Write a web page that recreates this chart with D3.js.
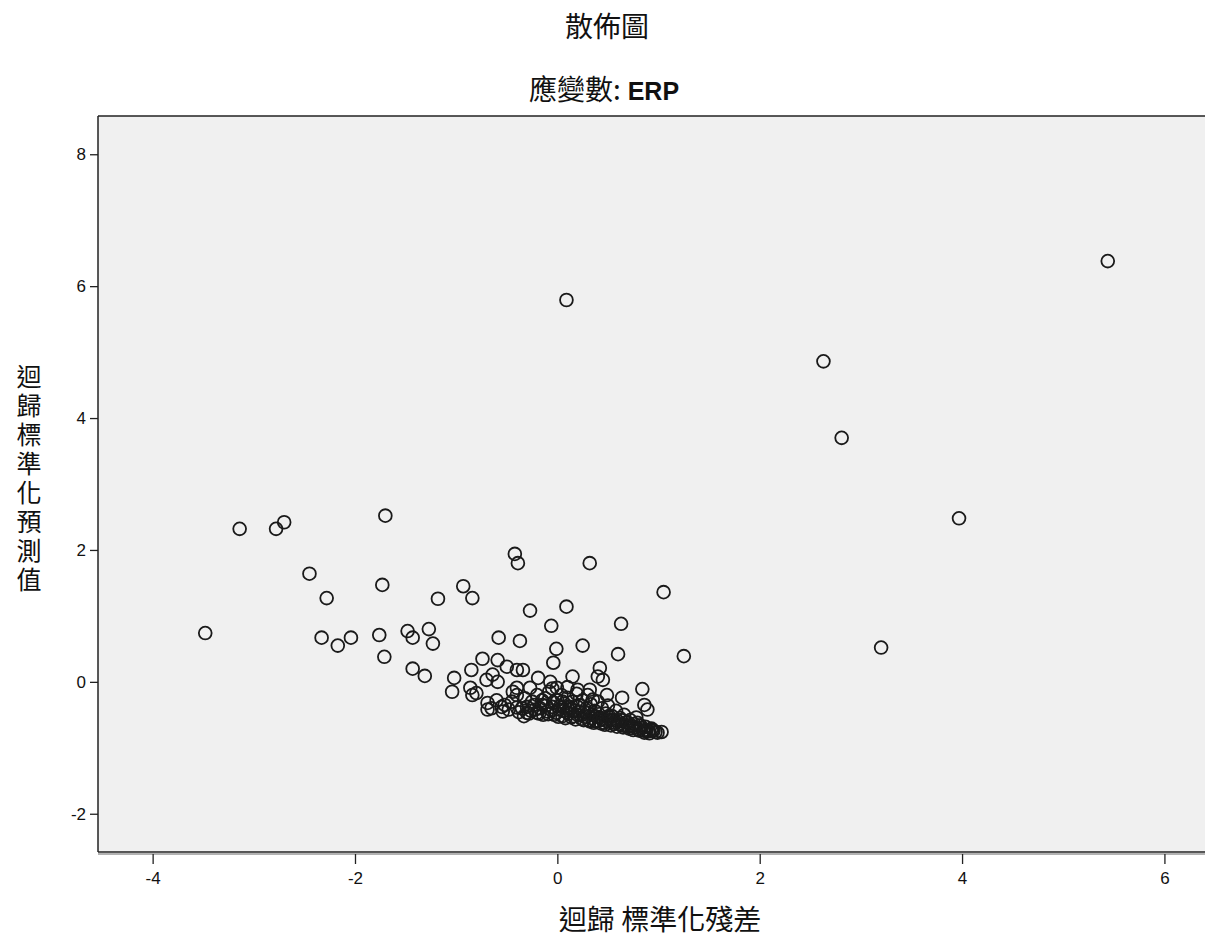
<!DOCTYPE html>
<html>
<head>
<meta charset="utf-8">
<script src="https://cdn.jsdelivr.net/npm/d3@7"></script>
<style>
  body { margin: 0; background: #ffffff; }
  svg { display: block; }
  .cjk { font-family: "Noto Sans CJK TC", "Noto Sans CJK SC", sans-serif; }
  .num { font-family: "Liberation Sans", Arial, sans-serif; }
</style>
</head>
<body>
<div id="chart"></div>
<script>
// chart texts
var chartTitle = "散佈圖";
var subTitleCjk = "應變數:";
var subTitleVar = " ERP";
var xLabel = "迴歸 標準化殘差";
var yLabel = "迴歸標準化預測值";

// tick values
var xTicks = [-4, -2, 0, 2, 4, 6];
var yTicks = [-2, 0, 2, 4, 6, 8];

// standardized residual (x) and standardized predicted value (y)
var residuals = [
    5.44, 0.09, 2.63, 2.81, 3.97, 3.20, -3.48, -3.14, -2.78, -2.70,
    -1.70, -2.45, -2.28, -2.33, -2.17, -2.04, -1.73, -1.76, -1.71, -1.48,
    -1.43, -1.27, -1.23, -1.43, -1.31, -1.18, -0.93, -0.84, -0.42, -0.39,
    0.32, 1.05, 0.09, -0.27, -0.06, 0.63, -0.58, -0.37, -0.01, 0.25,
    1.25, 0.60,
    -1.02, -1.04, -0.85, -0.74, -0.59, -0.50, -0.70, -0.59, -0.86, -0.84,
    -0.80, -0.69, -0.69, -0.55, -0.54, -0.64, -0.40, -0.44, -0.04, -0.34,
    0.15, -0.19, -0.07, -0.27, -0.005, -0.40, -0.40, -0.30, 0.42, 0.40,
    0.45, 0.84, 0.32, 0.49, 0.64, 0.86, 0.89, 0.35, 0.88, 0.94, 1.03,
    -0.25, -0.22, -0.20, -0.18, -0.15, -0.12, -0.10, -0.08, -0.05, -0.03,
    0.00, 0.02, 0.04, 0.05, 0.07, 0.09, 0.10, 0.12, 0.14, 0.15,
    0.17, 0.19, 0.20, 0.22, 0.24, 0.25, 0.27, 0.29, 0.31, 0.33,
    0.35, 0.37, 0.38, 0.40, 0.42, 0.44, 0.46, 0.48, 0.50, 0.52,
    0.54, 0.56, 0.58, 0.60, 0.62, 0.64, 0.66, 0.68, 0.70, 0.72,
    0.74, 0.76, 0.78, 0.80, 0.82, 0.85, 0.87, 0.90, 0.93, 0.97,
    -0.35, -0.32, -0.28, -0.45, -0.40, -0.05, 0.10, 0.30, 0.20,
    -0.30, -0.26, -0.23, -0.20, -0.17, -0.14, -0.11, -0.09, -0.06, -0.04,
    -0.01, 0.01, 0.03, 0.06, 0.08, 0.11, 0.13, 0.16, 0.18, 0.21,
    0.23, 0.26, 0.28, 0.30, 0.32, 0.34, 0.36, 0.39, 0.41, 0.43,
    0.45, 0.47, 0.49, 0.51, 0.53, 0.55, 0.57, 0.59, 0.61, 0.63,
    0.65, 0.67, 0.69, 0.71, 0.73, 0.75, 0.77, 0.79, 0.81, 0.83,
    0.86, 0.88, 0.91, 0.95, 0.99, -0.48, -0.52, -0.60, -0.65, -0.38,
    -0.33, -0.15, 0.05, 0.20
];
var predicted = [
    6.38, 5.79, 4.86, 3.70, 2.48, 0.52, 0.74, 2.32, 2.32, 2.42,
    2.52, 1.64, 1.27, 0.67, 0.55, 0.67, 1.47, 0.71, 0.38, 0.77,
    0.67, 0.80, 0.58, 0.20, 0.09, 1.26, 1.45, 1.27, 1.94, 1.80,
    1.80, 1.36, 1.14, 1.08, 0.85, 0.88, 0.67, 0.62, 0.50, 0.55,
    0.39, 0.42,
    0.06, -0.15, 0.18, 0.35, 0.33, 0.23, 0.03, 0.00, -0.09, -0.20,
    -0.17, -0.32, -0.42, -0.38, -0.45, 0.11, 0.18, -0.15, 0.29, 0.18,
    0.08, 0.06, 0.00, -0.09, -0.09, -0.09, -0.39, -0.47, 0.21, 0.08,
    0.03, -0.11, -0.12, -0.20, -0.24, -0.35, -0.42, -0.27, -0.73, -0.73, -0.76,
    -0.30, -0.42, -0.20, -0.48, -0.35, -0.25, -0.45, -0.15, -0.38, -0.50,
    -0.28, -0.42, -0.20, -0.52, -0.33, -0.46, -0.24, -0.38, -0.54, -0.30,
    -0.44, -0.18, -0.50, -0.36, -0.56, -0.28, -0.46, -0.40, -0.58, -0.34,
    -0.50, -0.44, -0.60, -0.30, -0.54, -0.40, -0.62, -0.48, -0.36, -0.58,
    -0.52, -0.64, -0.44, -0.60, -0.55, -0.66, -0.50, -0.62, -0.68, -0.58,
    -0.70, -0.64, -0.54, -0.72, -0.66, -0.74, -0.68, -0.75, -0.71, -0.76,
    -0.40, -0.25, -0.48, -0.30, -0.20, -0.10, -0.08, -0.20, -0.12,
    -0.38, -0.44, -0.35, -0.47, -0.40, -0.50, -0.36, -0.49, -0.43, -0.31,
    -0.47, -0.53, -0.37, -0.44, -0.55, -0.48, -0.41, -0.52, -0.57, -0.45,
    -0.51, -0.58, -0.53, -0.47, -0.60, -0.55, -0.62, -0.53, -0.59, -0.63,
    -0.56, -0.65, -0.60, -0.52, -0.66, -0.58, -0.62, -0.68, -0.64, -0.58,
    -0.69, -0.66, -0.61, -0.71, -0.66, -0.73, -0.69, -0.62, -0.74, -0.70,
    -0.77, -0.73, -0.78, -0.74, -0.77, -0.42, -0.35, -0.28, -0.40, -0.46,
    -0.52, -0.28, -0.30, -0.38
];

var width = 1205, height = 950;
var plot = { left: 98, right: 1214, top: 116, bottom: 852 };

var svg = d3.select("#chart").append("svg")
    .attr("width", width)
    .attr("height", height);

var x = d3.scaleLinear()
    .domain([-4.54, 6.49])
    .range([plot.left, plot.right]);

var y = d3.scaleLinear()
    .domain([-2.58, 8.58])
    .range([plot.bottom, plot.top]);

// SPSS prints a plain hyphen for negatives
var tickFmt = function(d) { return d < 0 ? "-" + Math.abs(d) : "" + d; };

// plot background
svg.append("rect")
    .attr("x", plot.left)
    .attr("y", plot.top)
    .attr("width", plot.right - plot.left)
    .attr("height", plot.bottom - plot.top)
    .attr("fill", "#f0f0f0");

// points
var data = residuals.map(function(d, i) { return { x: d, y: predicted[i] }; });

svg.append("g")
    .selectAll("circle")
    .data(data)
    .enter().append("circle")
    .attr("cx", function(d) { return x(d.x); })
    .attr("cy", function(d) { return y(d.y); })
    .attr("r", 6.4)
    .attr("fill", "none")
    .attr("stroke", "#1a1a1a")
    .attr("stroke-width", 1.8);

// frame
svg.append("line")
    .attr("x1", plot.left).attr("x2", plot.right)
    .attr("y1", plot.top).attr("y2", plot.top)
    .attr("stroke", "#222").attr("stroke-width", 1.5);
svg.append("line")
    .attr("x1", plot.left).attr("x2", plot.left)
    .attr("y1", plot.top).attr("y2", plot.bottom)
    .attr("stroke", "#222").attr("stroke-width", 1.5);
svg.append("line")
    .attr("x1", plot.left).attr("x2", plot.right)
    .attr("y1", plot.bottom + 2).attr("y2", plot.bottom + 2)
    .attr("stroke", "#999").attr("stroke-width", 1.5);
svg.append("line")
    .attr("x1", plot.left).attr("x2", plot.right)
    .attr("y1", plot.bottom).attr("y2", plot.bottom)
    .attr("stroke", "#222").attr("stroke-width", 1.5);

// x axis
var xAxis = svg.append("g")
    .attr("class", "num")
    .attr("transform", "translate(0," + (plot.bottom + 2) + ")")
    .call(d3.axisBottom(x).tickValues(xTicks).tickSize(10).tickPadding(8).tickFormat(tickFmt));
xAxis.select(".domain").remove();
xAxis.selectAll("line").attr("stroke", "#222").attr("stroke-width", 1.3);
xAxis.selectAll("text")
    .attr("font-size", 17)
    .attr("fill", "#111")
    .style("font-family", "'Liberation Sans', Arial, sans-serif");

// y axis
var yAxis = svg.append("g")
    .attr("class", "num")
    .attr("transform", "translate(" + plot.left + ",0)")
    .call(d3.axisLeft(y).tickValues(yTicks).tickSize(8).tickPadding(4).tickFormat(tickFmt));
yAxis.select(".domain").remove();
yAxis.selectAll("line").attr("stroke", "#222").attr("stroke-width", 1.3);
yAxis.selectAll("text")
    .attr("font-size", 17)
    .attr("fill", "#111")
    .style("font-family", "'Liberation Sans', Arial, sans-serif");

// titles
svg.append("text")
    .attr("class", "cjk")
    .attr("x", 607)
    .attr("y", 37)
    .attr("text-anchor", "middle")
    .attr("font-size", 28)
    .attr("fill", "#111")
    .text(chartTitle);

var sub = svg.append("text")
    .attr("x", 604)
    .attr("y", 100)
    .attr("text-anchor", "middle")
    .attr("fill", "#111");
sub.append("tspan")
    .attr("class", "cjk")
    .attr("font-size", 28)
    .text(subTitleCjk);
sub.append("tspan")
    .attr("class", "num")
    .attr("font-size", 25)
    .attr("font-weight", "bold")
    .text(subTitleVar);

svg.append("text")
    .attr("class", "cjk")
    .attr("x", 660)
    .attr("y", 930)
    .attr("text-anchor", "middle")
    .attr("font-size", 28)
    .attr("fill", "#111")
    .text(xLabel);

// vertical y label, written top to bottom as one text
svg.append("text")
    .attr("class", "cjk")
    .attr("x", 29)
    .attr("y", 364)
    .style("writing-mode", "vertical-rl")
    .style("text-orientation", "upright")
    .style("letter-spacing", "4px")
    .attr("font-size", 25)
    .attr("fill", "#111")
    .text(yLabel);
</script>
</body>
</html>
